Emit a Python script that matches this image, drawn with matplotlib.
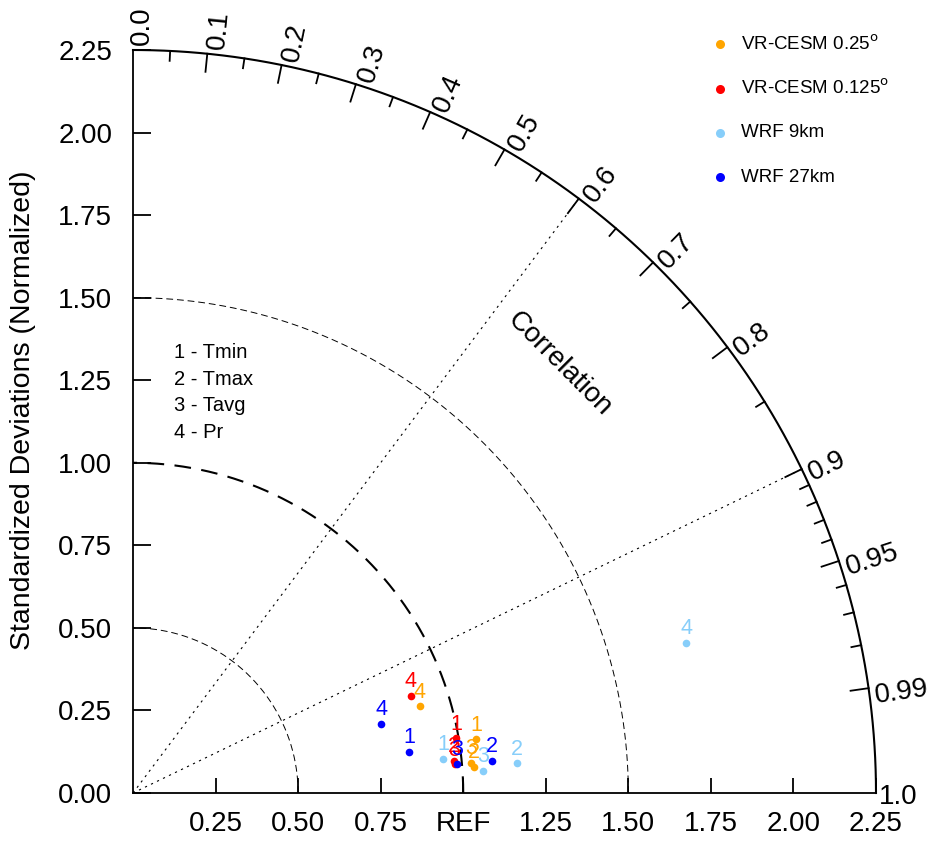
import numpy as np
import matplotlib.pyplot as plt

plt.rcParams["font.family"] = ["Liberation Sans", "DejaVu Sans"]

# normalized standard deviation and correlation for each variable (1 Tmin, 2 Tmax, 3 Tavg, 4 Pr)
models = ["VR-CESM 0.25$^{\\rm o}$", "VR-CESM 0.125$^{\\rm o}$", "WRF 9km", "WRF 27km"]
colors = ["#FFA500", "#FF0000", "#87CEFA", "#0000FF"]
var_ids = ["1", "2", "3", "4"]
var_names = ["Tmin", "Tmax", "Tavg", "Pr"]

std_cesm25 = [1.052, 1.035, 1.029, 0.908]
cor_cesm25 = [0.988, 0.997, 0.996, 0.957]
std_cesm125 = [0.992, 0.977, 0.978, 0.891]
cor_cesm125 = [0.986, 0.995, 0.996, 0.944]
std_wrf9 = [0.945, 1.167, 1.062, 1.736]
cor_wrf9 = [0.994, 0.997, 0.998, 0.965]
std_wrf27 = [0.846, 1.090, 0.985, 0.780]
cor_wrf27 = [0.989, 0.996, 0.996, 0.963]

stds = [std_cesm25, std_cesm125, std_wrf9, std_wrf27]
cors = [cor_cesm25, cor_cesm125, cor_wrf9, cor_wrf27]

# correlation axis ticks
cor_major = [0.1, 0.2, 0.3, 0.4, 0.5, 0.6, 0.7, 0.8, 0.9, 0.95, 0.99]
cor_minor = [0.05, 0.15, 0.25, 0.35, 0.45, 0.55, 0.65, 0.75, 0.85,
             0.91, 0.92, 0.93, 0.94, 0.96, 0.97, 0.98]
cor_labels = ["0.0", "0.1", "0.2", "0.3", "0.4", "0.5", "0.6", "0.7", "0.8", "0.9", "0.95", "0.99", "1.0"]
cor_label_vals = [0.0, 0.1, 0.2, 0.3, 0.4, 0.5, 0.6, 0.7, 0.8, 0.9, 0.95, 0.99, 1.0]
std_ticks = [0.0, 0.25, 0.5, 0.75, 1.0, 1.25, 1.5, 1.75, 2.0, 2.25]
x_tick_labels = ["0.25", "0.50", "0.75", "REF", "1.25", "1.50", "1.75", "2.00", "2.25"]
rmax = 2.25

W, H = 937, 846
fig = plt.figure(figsize=(W / 100, H / 100), dpi=100)
ax = fig.add_axes([133 / W, 53 / H, 743 / W, 743 / H])
ax.set_xlim(0, rmax)
ax.set_ylim(0, rmax)
ax.spines["top"].set_visible(False)
ax.spines["right"].set_visible(False)
ax.spines["left"].set_linewidth(1.3)
ax.spines["bottom"].set_linewidth(1.3)

ax.set_yticks(std_ticks)
ax.set_yticklabels(["%.2f" % v for v in std_ticks])
ax.set_xticks(std_ticks[1:])
ax.set_xticklabels(x_tick_labels)
ax.tick_params(axis="y", direction="in", length=13, width=1.3, pad=15, labelsize=20)
ax.tick_params(axis="x", direction="in", length=11, width=1.3, pad=13, labelsize=20)
ax.set_ylabel("Standardized Deviations (Normalized)", fontsize=20.5)
ax.yaxis.set_label_coords(-0.13, 0.515)

# outer arc
th = np.linspace(0, np.pi / 2, 300)
ax.plot(rmax * np.cos(th), rmax * np.sin(th), color="k", lw=1.5, clip_on=False)

# std arcs
for r, lw, ls in [(0.5, 0.7, (0, (7, 4))), (1.0, 1.5, (0, (8, 5))), (1.5, 0.7, (0, (7, 4)))]:
    ax.plot(r * np.cos(th), r * np.sin(th), color="k", lw=lw, linestyle=ls)

# radial correlation lines
for c in [0.6, 0.9]:
    a = np.arccos(c)
    ax.plot([0, rmax * np.cos(a)], [0, rmax * np.sin(a)], color="k", lw=0.8,
            linestyle=(0, (2, 4)))

# correlation ticks
for c in cor_major:
    a = np.arccos(c)
    ax.plot([rmax * np.cos(a), (rmax - 0.055) * np.cos(a)],
            [rmax * np.sin(a), (rmax - 0.055) * np.sin(a)], color="k", lw=1.3, clip_on=False)
for c in cor_minor:
    a = np.arccos(c)
    ax.plot([rmax * np.cos(a), (rmax - 0.03) * np.cos(a)],
            [rmax * np.sin(a), (rmax - 0.03) * np.sin(a)], color="k", lw=1.3, clip_on=False)

# correlation labels (radial line runs along the top of each label)
for c, lab in zip(cor_label_vals, cor_labels):
    a = np.arccos(c)
    rot = np.degrees(a)
    if c == 1.0:
        ax.text(rmax + 0.01, -0.012, lab, fontsize=20, ha="left", va="center", clip_on=False)
        continue
    r = rmax + 0.015
    # small shift towards the top of the rotated text
    dx, dy = -np.sin(a) * 0.012, np.cos(a) * 0.012
    ax.text(r * np.cos(a) + dx, r * np.sin(a) + dy, lab, fontsize=20,
            rotation=rot, rotation_mode="anchor", ha="left", va="top", clip_on=False)

ax.text(1.292, 1.3, "Correlation", fontsize=20, rotation=-45, ha="center", va="center")

# variable key
for i, (vid, name) in enumerate(zip(var_ids, var_names)):
    ax.text(0.125, 1.333 - i * 0.08, vid + " - " + name, fontsize=14.5, ha="left", va="center")

# model points
for s, c, col in zip(stds, cors, colors):
    s = np.array(s)
    a = np.arccos(np.array(c))
    x = s * np.cos(a)
    y = s * np.sin(a)
    ax.plot(x, y, "o", color=col, ms=5.5, mec="none", clip_on=False)
    for xi, yi, vid in zip(x, y, var_ids):
        ax.annotate(vid, (xi, yi), xytext=(0, 2.5), textcoords="offset points",
                    ha="center", va="bottom", fontsize=15.5, color=col)

# legend
for i, (m, col) in enumerate(zip(models, colors)):
    yy = 2.267 - i * 0.134
    ax.plot([1.779], [yy], "o", color=col, ms=6.5, mec="none", clip_on=False)
    ax.text(1.84, yy, m, fontsize=13.5, ha="left", va="center", clip_on=False)

fig.savefig("out.png", dpi=100)
